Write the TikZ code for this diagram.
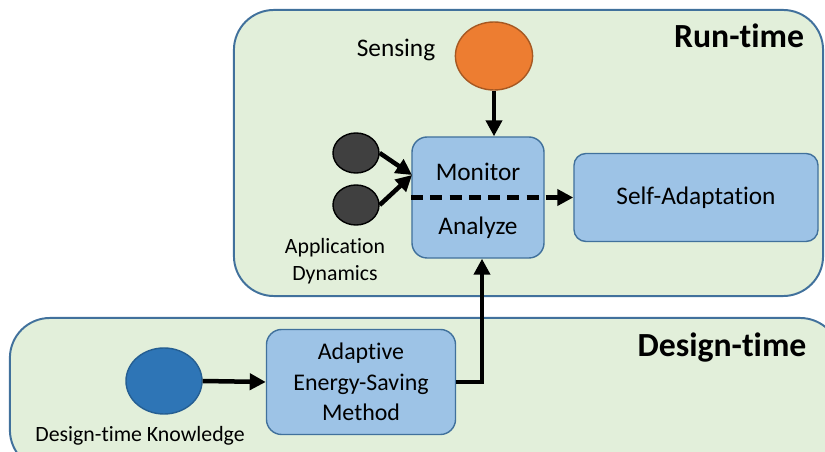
\documentclass[tikz,border=0pt]{standalone}
\usepackage{fontspec}
\setmainfont{Carlito}[Ligatures=NoCommon]
\usetikzlibrary{shapes,arrows.meta,positioning}
\definecolor{panelfill}{RGB}{226,239,218}
\definecolor{panelline}{RGB}{65,113,156}
\definecolor{boxfill}{RGB}{157,195,230}
\definecolor{sensecolor}{RGB}{237,125,49}
\definecolor{appcolor}{RGB}{64,64,64}
\definecolor{knowcolor}{RGB}{46,117,182}

\begin{document}
\begin{tikzpicture}[x=0.025cm, y=-0.025cm,
    panel/.style={rectangle, draw=panelline, line width=1.4pt, fill=panelfill, rounded corners=1cm},
    block/.style={rectangle, draw=panelline, line width=1pt, fill=boxfill, rounded corners=0.38cm, align=center},
    source/.style={ellipse, inner sep=0pt, line width=1pt},
    label/.style={font=\fontsize{17}{21}\selectfont, align=center},
    title/.style={font=\fontsize{24}{28}\selectfont\bfseries},
    arrow/.style={-{Triangle[length=0.4cm,width=0.4cm]}, line width=3.2pt}
]
    \useasboundingbox (0,0) rectangle (825,452);
    \clip (0,0) rectangle (825,452);

    % Two phases
    \node[panel, minimum width=14.725cm, minimum height=7.15cm] (run) at (528.5,153) {};
    \node[panel, minimum width=20.75cm, minimum height=3.8cm] (design) at (425,394) {};
    \node[title] (runlbl) at (739,36) {Run-time};
    \node[title] (designlbl) at (722,348) {Design-time};

    % Run-time inputs
    \node[source, fill=sensecolor, draw=sensecolor!70!black, minimum width=1.93cm, minimum height=1.7cm] (sense) at (494,56) {};
    \node[label, font=\fontsize{18}{22}\selectfont] (senselbl) at (396,50) {Sensing};
    \node[source, fill=appcolor, draw=black, minimum width=1.15cm, minimum height=1cm] (app1) at (356,153) {};
    \node[source, fill=appcolor, draw=black, minimum width=1.15cm, minimum height=1cm] (app2) at (356,205) {};
    \node[label, font=\fontsize{15.5}{19.5}\selectfont] (applbl) at (335,261) {Application\\Dynamics};

    % Run-time blocks
    \node[block, minimum width=3.3cm, minimum height=3.025cm] (ma) at (478,197.5) {};
    \node[label, font=\fontsize{18}{22}\selectfont] (mon) at (478,172) {Monitor};
    \node[label, font=\fontsize{18}{22}\selectfont] (ana) at (478,228) {Analyze};
    \node[block, rounded corners=0.3cm, minimum width=6.1cm, minimum height=2.2cm, font=\fontsize{18}{22}\selectfont] (sa) at (696,197.5) {Self-Adaptation};

    % Design-time
    \node[source, fill=knowcolor, draw=knowcolor!80!black, minimum width=1.9cm, minimum height=1.65cm] (know) at (164,381) {};
    \node[label, font=\fontsize{15.5}{19.5}\selectfont] (knowlbl) at (140,436) {Design-time Knowledge};
    \node[block, minimum width=4.725cm, minimum height=2.625cm, label, font=\fontsize{17}{21.5}\selectfont] (aes) at (361,382) {Adaptive\\Energy-Saving\\Method};

    % Arrows
    \coordinate (join) at (412,175);
    \draw[arrow] (sense.south) -- (sense.south |- ma.north);
    \draw[arrow] (app1.east) -- (join);
    \draw[arrow] (app2.east) -- (join);
    \draw[arrow, dash pattern=on 0.3cm off 0.18cm] (ma.west) -- (sa.west);
    \draw[arrow] (know.east) -- (aes.west);
    \draw[arrow, rounded corners=0pt] (aes.east) -| ([xshift=0.1cm]ma.south);
\end{tikzpicture}
\end{document}
